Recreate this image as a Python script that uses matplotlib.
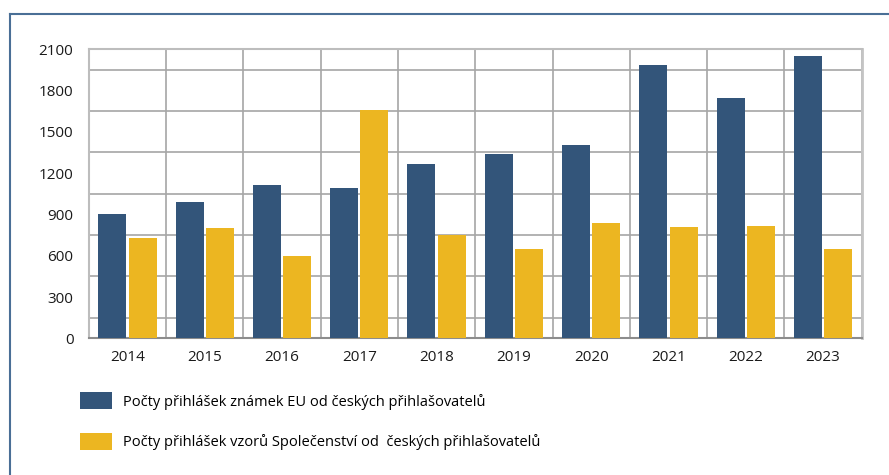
import numpy as np
from matplotlib import pyplot as plt
from matplotlib.lines import Line2D

plt.rcParams['font.family'] = ['Open Sans', 'DejaVu Sans']

years = ['2014', '2015', '2016', '2017', '2018', '2019', '2020', '2021', '2022', '2023']
eu_marks = [900, 990, 1110, 1093, 1267, 1339, 1404, 1984, 1745, 2049]
community_designs = [727, 800, 598, 1655, 748, 650, 838, 810, 817, 650]
labels = ['Počty přihlášek známek EU od českých přihlašovatelů',
          'Počty přihlášek vzorů Společenství od  českých přihlašovatelů']

blue = '#33557a'
yellow = '#ecb621'

fig = plt.figure(figsize=(8.89, 4.75), dpi=100)
ax = fig.add_axes([0.0998, 0.2874, 0.8695, 0.6094])

x = np.arange(len(years))
w = 0.362
gap = 0.03
b1 = ax.bar(x - (w + gap) / 2, eu_marks, w, color=blue, zorder=3)
b2 = ax.bar(x + (w + gap) / 2, community_designs, w, color=yellow, zorder=3)

ax.set_xlim(-0.5, len(years) - 0.5)
ax.set_ylim(0, 2100)
ax.set_yticks(np.arange(0, 2101, 300))
ax.set_yticks(np.arange(0, 2101, 150), minor=True)
ax.set_xticks(x)
ax.set_xticklabels(years)
ax.set_xticks(np.arange(-0.5, len(years), 1), minor=True)
ax.tick_params(axis='both', which='both', length=0, labelsize=11, colors='#1a1a1a')
ax.tick_params(axis='x', pad=8)
ax.tick_params(axis='y', pad=11)

ax.grid(True, which='minor', color='#a6a6a6', linewidth=1.2, zorder=0)
ax.grid(False, which='major')
for s in ['left', 'top']:
    ax.spines[s].set_color('#bdbdbd')
    ax.spines[s].set_linewidth(1.5)
ax.spines['right'].set_color('#c4c4c4')
ax.spines['right'].set_linewidth(2)
ax.spines['bottom'].set_color('#8c8c8c')
ax.spines['bottom'].set_linewidth(1.5)

leg = fig.legend([b1, b2], labels, loc='upper left', bbox_to_anchor=(0.09, 0.1747),
                 frameon=False, fontsize=10.5, handlelength=2.2, handleheight=1.45,
                 handletextpad=0.75, labelspacing=1.6, borderpad=0, borderaxespad=0)

# outer frame lines (top and left)
fig.add_artist(Line2D([10 / 889, 1], [1 - 14 / 475, 1 - 14 / 475],
                      transform=fig.transFigure, color='#4a6f96', linewidth=1.5))
fig.add_artist(Line2D([10 / 889, 10 / 889], [0, 1 - 14 / 475],
                      transform=fig.transFigure, color='#4a6f96', linewidth=1.5))

plt.savefig('out.png', dpi=100)
